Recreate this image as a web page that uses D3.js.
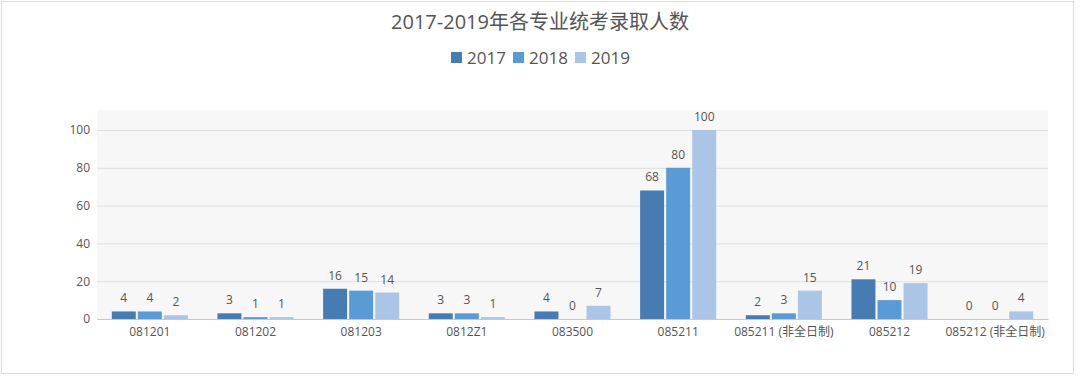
<!DOCTYPE html>
<html>
<head>
<meta charset="utf-8">
<script src="https://cdn.jsdelivr.net/npm/d3@7"></script>
<style>
  body { margin: 0; background: #fff; }
  svg { display: block; font-family: "Open Sans", "Noto Sans CJK SC", sans-serif; }
</style>
</head>
<body>
<svg id="chart" width="1080" height="381"></svg>
<script>
const categories = ["081201", "081202", "081203", "0812Z1", "083500", "085211", "085211 (非全日制)", "085212", "085212 (非全日制)"]
const years = ["2017", "2018", "2019"]
const values2017 = [4, 3, 16, 3, 4, 68, 2, 21, 0]
const values2018 = [4, 1, 15, 3, 0, 80, 3, 10, 0]
const values2019 = [2, 1, 14, 1, 7, 100, 15, 19, 4]
const yTicks = [0, 20, 40, 60, 80, 100]
const colors = ["#477cb2", "#5a9bd5", "#abc5e6"]

const series = [values2017, values2018, values2019]

const svg = d3.select("#chart")

const LEFT = 97, RIGHT = 1048, TOP = 110, BOTTOM = 319

// outer frame
svg.append("rect")
    .attr("x", 1.5).attr("y", 1.5)
    .attr("width", 1072).attr("height", 372)
    .attr("fill", "none")
    .attr("stroke", "#dcdcdc")

const xScale = d3.scaleBand()
    .domain(categories)
    .range([LEFT, RIGHT])
    .paddingInner(0.28)
    .paddingOuter(0.14)

const xInner = d3.scaleBand()
    .domain(years)
    .range([0, xScale.bandwidth()])
    .paddingInner(0.08)

const yScale = d3.scaleLinear()
    .domain([0, 100])
    .range([BOTTOM, 130])

// plot background
svg.append("rect")
    .attr("x", LEFT).attr("y", TOP)
    .attr("width", RIGHT - LEFT).attr("height", BOTTOM - TOP)
    .attr("fill", "#f7f7f7")

// grid
svg.append("g")
    .attr("transform", `translate(${LEFT},0)`)
    .call(d3.axisLeft(yScale).tickValues(yTicks).tickSize(-(RIGHT - LEFT)).tickFormat(""))
    .call(g => g.select(".domain").remove())
    .selectAll("line")
    .attr("stroke", "#dedede")

// y labels
svg.append("g")
    .attr("transform", `translate(${LEFT},0)`)
    .call(d3.axisLeft(yScale).tickValues(yTicks).tickSize(0).tickPadding(7))
    .call(g => g.select(".domain").remove())
    .selectAll("text")
    .attr("fill", "#555")
    .style("font-family", "'Open Sans', 'Noto Sans CJK SC', sans-serif")
    .style("font-size", "12px")

// x axis
svg.append("g")
    .attr("transform", `translate(0,${BOTTOM})`)
    .call(d3.axisBottom(xScale).tickSize(0).tickPadding(8))
    .call(g => g.select(".domain").attr("stroke", "#c8c8c8"))
    .selectAll("text")
    .attr("fill", "#555")
    .style("font-family", "'Open Sans', 'Noto Sans CJK SC', sans-serif")
    .style("font-size", "12px")

// bars
const groups = svg.append("g")
    .selectAll("g")
    .data(categories)
    .join("g")
    .attr("transform", d => `translate(${xScale(d)},0)`)

years.forEach(function (yr, si) {
    groups.append("rect")
        .attr("x", xInner(yr))
        .attr("width", xInner.bandwidth())
        .attr("y", (d, i) => yScale(series[si][i]))
        .attr("height", (d, i) => BOTTOM - yScale(series[si][i]))
        .attr("fill", colors[si])

    groups.append("text")
        .attr("x", xInner(yr) + xInner.bandwidth() / 2)
        .attr("y", (d, i) => yScale(series[si][i]) - 9)
        .attr("text-anchor", "middle")
        .attr("fill", "#555")
        .style("font-size", "12px")
        .text((d, i) => series[si][i])
})

// title
svg.append("text")
    .attr("x", 540).attr("y", 29)
    .attr("text-anchor", "middle")
    .attr("fill", "#555")
    .style("font-size", "20px")
    .text("2017-2019年各专业统考录取人数")

// legend
const legend = svg.append("g")
    .selectAll("g")
    .data(years)
    .join("g")
    .attr("transform", (d, i) => `translate(${451 + i * 62},0)`)

legend.append("rect")
    .attr("x", 0).attr("y", 52)
    .attr("width", 11).attr("height", 11)
    .attr("fill", (d, i) => colors[i])

legend.append("text")
    .attr("x", 16).attr("y", 64)
    .attr("fill", "#555")
    .style("font-size", "17px")
    .text(d => d)
</script>
</body>
</html>
